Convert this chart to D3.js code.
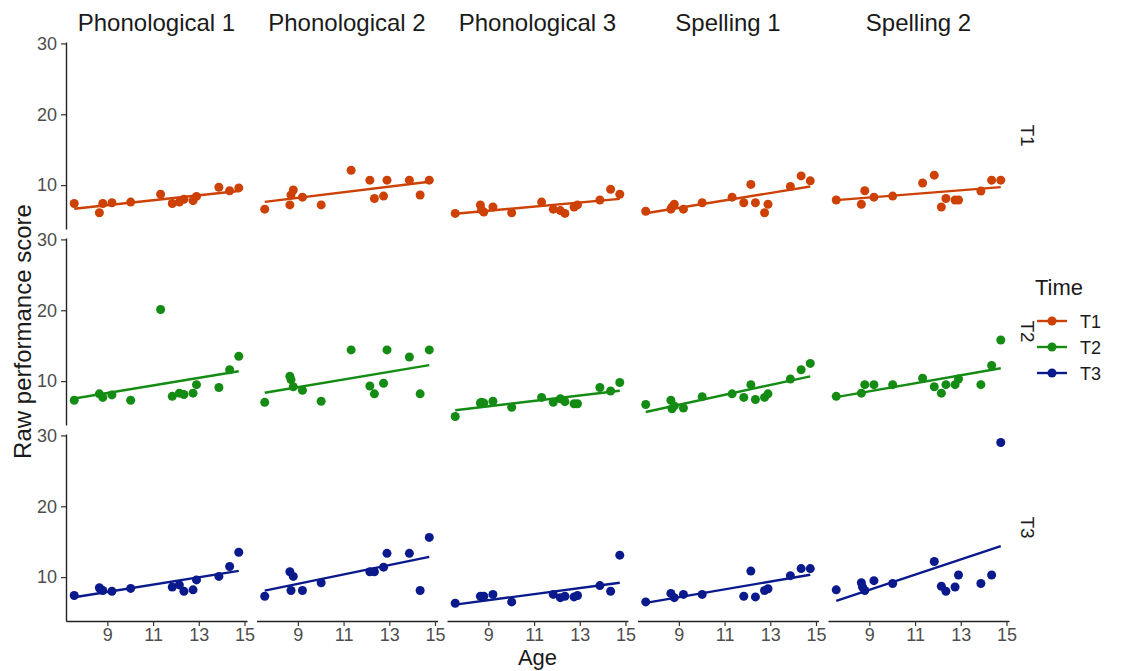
<!DOCTYPE html>
<html>
<head>
<meta charset="utf-8">
<script src="https://cdn.jsdelivr.net/npm/d3@7/dist/d3.min.js"></script>
<style>
body { margin: 0; background: #fff; }
</style>
</head>
<body>
<script>
var tests = ["Phonological 1", "Phonological 2", "Phonological 3", "Spelling 1", "Spelling 2"];
var times = ["T1", "T2", "T3"];
var timeColors = ["#cd4105", "#148c14", "#0a198c"];

// age of each participant (same children in every panel)
var ages = [7.55, 8.65, 8.7, 8.8, 9.2, 10.02, 11.33, 11.84, 12.15, 12.35, 12.75, 12.9, 13.88, 14.35, 14.75];

// raw scores, one row per test, one value per child (null = missing)
var scoresT1 = [
    [7.4, 6.1, null, 7.4, 7.5, 7.6, 8.7, 7.4, 7.6, 8.0, 7.8, 8.4, 9.7, 9.2, 9.6],
    [6.6, 7.2, 8.6, 9.3, 8.3, 7.2, 12.1, null, 10.7, 8.1, 8.45, 10.7, 10.7, 8.6, 10.7],
    [6.0, 7.2, 6.5, 6.2, 6.9, 6.1, 7.6, 6.6, 6.4, 6.0, 6.9, 7.2, 7.9, 9.4, 8.7],
    [6.3, 6.6, 6.9, 7.3, 6.6, 7.5, 8.3, 7.5, 10.1, 7.5, 6.1, 7.3, 9.8, 11.3, 10.6],
    [7.9, 7.3, null, 9.2, 8.3, 8.45, 10.3, 11.4, 6.9, 8.1, 7.9, 7.9, 9.15, 10.7, 10.7]
];
var scoresT2 = [
    [7.3, 8.2, null, 7.7, 8.05, 7.3, 20.1, 7.85, 8.3, 8.1, 8.3, 9.5, 9.1, 11.6, 13.5],
    [7.0, 10.7, 10.2, 9.2, 8.7, 7.15, 14.4, null, 9.3, 8.2, 9.7, 14.4, 13.4, 8.2, 14.4],
    [5.0, 6.9, 7.0, 6.9, 7.15, 6.3, 7.7, 7.0, 7.5, 7.1, 6.8, 6.8, 9.1, 8.6, 9.8],
    [6.7, 7.3, 6.1, 6.5, 6.2, 7.8, 8.2, 7.7, 9.5, 7.4, 7.7, 8.2, 10.3, 11.6, 12.5],
    [7.85, 8.3, null, 9.5, 9.5, 9.5, 10.4, 9.2, 8.3, 9.5, 9.5, 10.3, 9.5, 12.2, 15.8]
];
var scoresT3 = [
    [7.4, 8.5, 8.3, 8.1, 8.0, 8.4, null, 8.6, 8.9, 8.0, 8.2, 9.6, 10.1, 11.5, 13.5],
    [7.3, 10.75, 8.1, 10.1, 8.1, 9.2, null, null, 10.75, 10.75, 11.4, 13.35, 13.35, 8.1, 15.6],
    [6.3, 7.3, null, 7.3, 7.55, 6.5, null, 7.55, 7.1, 7.3, 7.2, 7.4, 8.8, 8.0, 13.1],
    [6.5, 7.7, null, 7.1, 7.55, 7.55, null, 7.3, 10.85, 7.2, 8.1, 8.35, 10.2, 11.2, 11.2],
    [8.2, 9.2, 8.6, 8.1, 9.5, 9.1, null, 12.2, 8.7, 8.0, 8.6, 10.3, 9.1, 10.3, 29.0]
];

var xTicks = [9, 11, 13, 15];
var yTicks = [10, 20, 30];

var width = 1126, height = 671;
var left = 66, top0 = 42;
var panelW = 181, panelH = 187, stepX = 190.5, stepY = 196;

var svg = d3.select("body")
    .append("svg")
    .attr("width", width)
    .attr("height", height)
    .style("font-family", "'Liberation Sans', Arial, sans-serif");

var allScores = [scoresT1, scoresT2, scoresT3];

// ggplot style 5% expansion
function expand(ext) {
    var d = ext[1] - ext[0];
    return [ext[0] - 0.05 * d, ext[1] + 0.05 * d];
}

var flat = [];
allScores.forEach(function(s) {
    s.forEach(function(row) {
        row.forEach(function(v) { if (v != null) flat.push(v); });
    });
});

var x = d3.scaleLinear().domain(expand(d3.extent(ages))).range([0, panelW]);
var y = d3.scaleLinear().domain(expand(d3.extent(flat))).range([panelH, 0]);

function linFit(pts) {
    var mx = d3.mean(pts, function(d) { return d[0]; });
    var my = d3.mean(pts, function(d) { return d[1]; });
    var sxy = d3.sum(pts, function(d) { return (d[0] - mx) * (d[1] - my); });
    var sxx = d3.sum(pts, function(d) { return (d[0] - mx) * (d[0] - mx); });
    var b = sxy / sxx;
    return function(a) { return my + b * (a - mx); };
}

for (var r = 0; r < times.length; r++) {
    for (var c = 0; c < tests.length; c++) {
        var g = svg.append("g")
            .attr("transform", "translate(" + (left + c * stepX) + "," + (top0 + r * stepY) + ")");

        var pts = [];
        ages.forEach(function(a, i) {
            var v = allScores[r][c][i];
            if (v != null) pts.push([a, v]);
        });

        var f = linFit(pts);
        var xe = d3.extent(pts, function(d) { return d[0]; });

        g.append("line")
            .attr("x1", x(xe[0]))
            .attr("x2", x(xe[1]))
            .attr("y1", y(f(xe[0])))
            .attr("y2", y(f(xe[1])))
            .attr("stroke", timeColors[r])
            .attr("stroke-width", 2.4);

        g.selectAll("circle")
            .data(pts)
            .enter().append("circle")
            .attr("cx", function(d) { return x(d[0]); })
            .attr("cy", function(d) { return y(d[1]); })
            .attr("r", 4.5)
            .attr("fill", timeColors[r]);

        if (c === 0) {
            var ya = g.append("g")
                .call(d3.axisLeft(y).tickValues(yTicks).tickSize(5).tickSizeOuter(0).tickPadding(4));
            styleAxis(ya);
        }
        if (r === times.length - 1) {
            var xa = g.append("g")
                .attr("transform", "translate(0," + panelH + ")")
                .call(d3.axisBottom(x).tickValues(xTicks).tickSize(5).tickSizeOuter(0).tickPadding(2));
            styleAxis(xa);
        }
        if (r === 0) {
            svg.append("text")
                .attr("x", left + c * stepX + panelW / 2)
                .attr("y", 31)
                .attr("text-anchor", "middle")
                .attr("font-size", 24)
                .attr("fill", "#1a1a1a")
                .text(tests[c]);
        }
    }
    svg.append("text")
        .attr("transform", "translate(1021," + (top0 + r * stepY + panelH / 2) + ") rotate(90)")
        .attr("text-anchor", "middle")
        .attr("font-size", 19)
        .attr("fill", "#1a1a1a")
        .text(times[r]);
}

function styleAxis(a) {
    a.select(".domain").attr("stroke", "#222").attr("stroke-width", 1.4);
    a.selectAll(".tick line").attr("stroke", "#333").attr("stroke-width", 1.2);
    a.selectAll(".tick text")
        .attr("font-size", 18)
        .attr("font-family", "'Liberation Sans', Arial, sans-serif")
        .attr("fill", "#4d4d4d");
}

// axis titles
svg.append("text")
    .attr("x", left + (4 * stepX + panelW) / 2)
    .attr("y", 665)
    .attr("text-anchor", "middle")
    .attr("font-size", 22)
    .attr("fill", "#1a1a1a")
    .text("Age");

svg.append("text")
    .attr("transform", "translate(31," + (top0 + (2 * stepY + panelH) / 2) + ") rotate(-90)")
    .attr("text-anchor", "middle")
    .attr("font-size", 24)
    .attr("fill", "#1a1a1a")
    .text("Raw performance score");

// legend
var legend = svg.append("g").attr("transform", "translate(1035,0)");

legend.append("text")
    .attr("x", 0)
    .attr("y", 295)
    .attr("font-size", 22)
    .attr("fill", "#1a1a1a")
    .text("Time");

var items = legend.selectAll("g.item")
    .data(times)
    .enter().append("g")
    .attr("class", "item")
    .attr("transform", function(d, i) { return "translate(0," + (321 + i * 26) + ")"; });

items.append("line")
    .attr("x1", 2).attr("x2", 32)
    .attr("stroke", function(d, i) { return timeColors[i]; })
    .attr("stroke-width", 2.4);

items.append("circle")
    .attr("cx", 17)
    .attr("r", 4.5)
    .attr("fill", function(d, i) { return timeColors[i]; });

items.append("text")
    .attr("x", 45)
    .attr("y", 6.5)
    .attr("font-size", 18)
    .attr("fill", "#1a1a1a")
    .text(function(d) { return d; });
</script>
</body>
</html>
